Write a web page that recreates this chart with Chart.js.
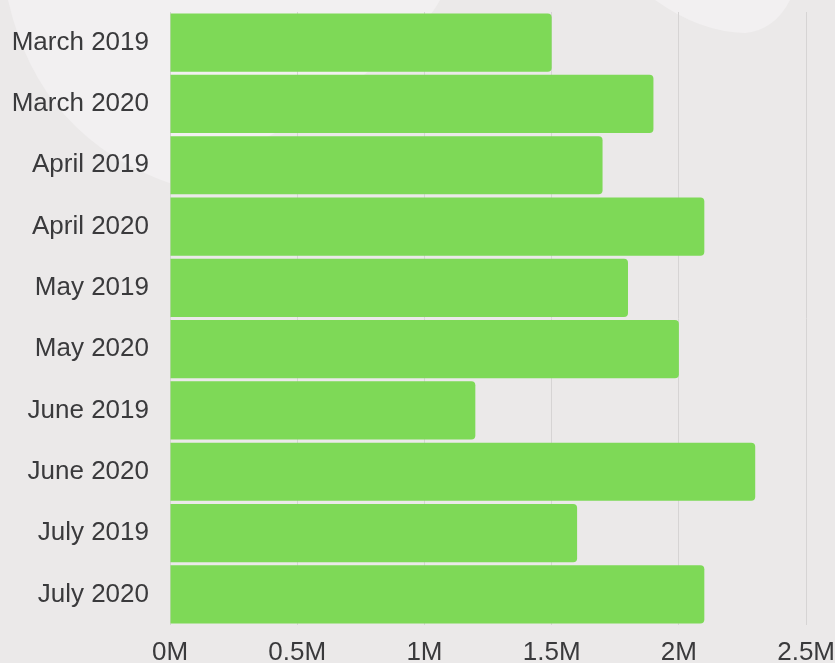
<!DOCTYPE html>
<html>
<head>
<meta charset="utf-8">
<script src="https://cdn.jsdelivr.net/npm/chart.js@4"></script>
<style>
  html, body { margin: 0; padding: 0; background: #ebe9e9; }
  #wrap { width: 835px; height: 663px; position: relative; }
</style>
</head>
<body>
<div id="wrap"><canvas id="barChart"></canvas></div>
<script>
// Etichette delle categorie (mese/anno)
const months = [
    'March 2019', 'March 2020', 'April 2019', 'April 2020', 'May 2019',
    'May 2020', 'June 2019', 'June 2020', 'July 2019', 'July 2020'
];

// Valori (in unità, l'asse mostra milioni)
const values = [1500000, 1900000, 1700000, 2100000, 1800000,
                2000000, 1200000, 2300000, 1600000, 2100000];

// Asse X
const xMax = 2500000;
const xStep = 500000;

// Sfondo decorativo con macchie chiare
const bgPlugin = {
    id: 'bgDecor',
    beforeDraw(chart) {
        const c = chart.ctx;
        c.save();
        c.fillStyle = '#ebe9e9';
        c.fillRect(0, 0, chart.width, chart.height);
        c.fillStyle = '#f2f0f1';
        c.beginPath();
        c.moveTo(8, 0);
        c.quadraticCurveTo(40, 140, 175, 185);
        c.lineTo(300, 120);
        c.quadraticCurveTo(420, 40, 440, 0);
        c.closePath();
        c.fill();
        c.beginPath();
        c.moveTo(655, 0);
        c.quadraticCurveTo(700, 32, 745, 33);
        c.quadraticCurveTo(775, 30, 790, 0);
        c.closePath();
        c.fill();
        c.restore();
    }
};

const tickFont = { family: 'Liberation Sans, Arial, sans-serif', size: 26, lineHeight: 0.9 };

const ctx = document.getElementById('barChart').getContext('2d');
new Chart(ctx, {
    type: 'bar',
    data: {
        labels: months,
        datasets: [{
            data: values,
            backgroundColor: '#7ed957',
            borderWidth: 0,
            borderRadius: { topRight: 4, bottomRight: 4 },
            borderSkipped: 'start',
            barPercentage: 0.95,
            categoryPercentage: 1
        }]
    },
    options: {
        indexAxis: 'y',
        responsive: true,
        maintainAspectRatio: false,
        animation: false,
        layout: { padding: { top: 12, right: -4, left: 0, bottom: 0 } },
        plugins: {
            legend: { display: false },
            tooltip: { enabled: false }
        },
        scales: {
            x: {
                min: 0,
                max: xMax,
                grid: {
                    color: '#d6d4d4',
                    drawTicks: true,
                    tickLength: 16,
                    tickColor: 'rgba(0,0,0,0)',
                    z: -1
                },
                border: { display: false },
                ticks: {
                    stepSize: xStep,
                    padding: 0,
                    color: '#3a3a3c',
                    font: tickFont,
                    callback: v => (v / 1000000) + 'M'
                },
                afterFit(scale) { scale.height = 38; }
            },
            y: {
                grid: {
                    display: true,
                    drawOnChartArea: false,
                    drawTicks: true,
                    tickLength: 21,
                    color: 'rgba(0,0,0,0)'
                },
                border: { display: false },
                ticks: {
                    padding: 0,
                    color: '#3a3a3c',
                    font: tickFont
                },
                afterFit(scale) { scale.width = 170; }
            }
        }
    },
    plugins: [bgPlugin]
});
</script>
</body>
</html>
